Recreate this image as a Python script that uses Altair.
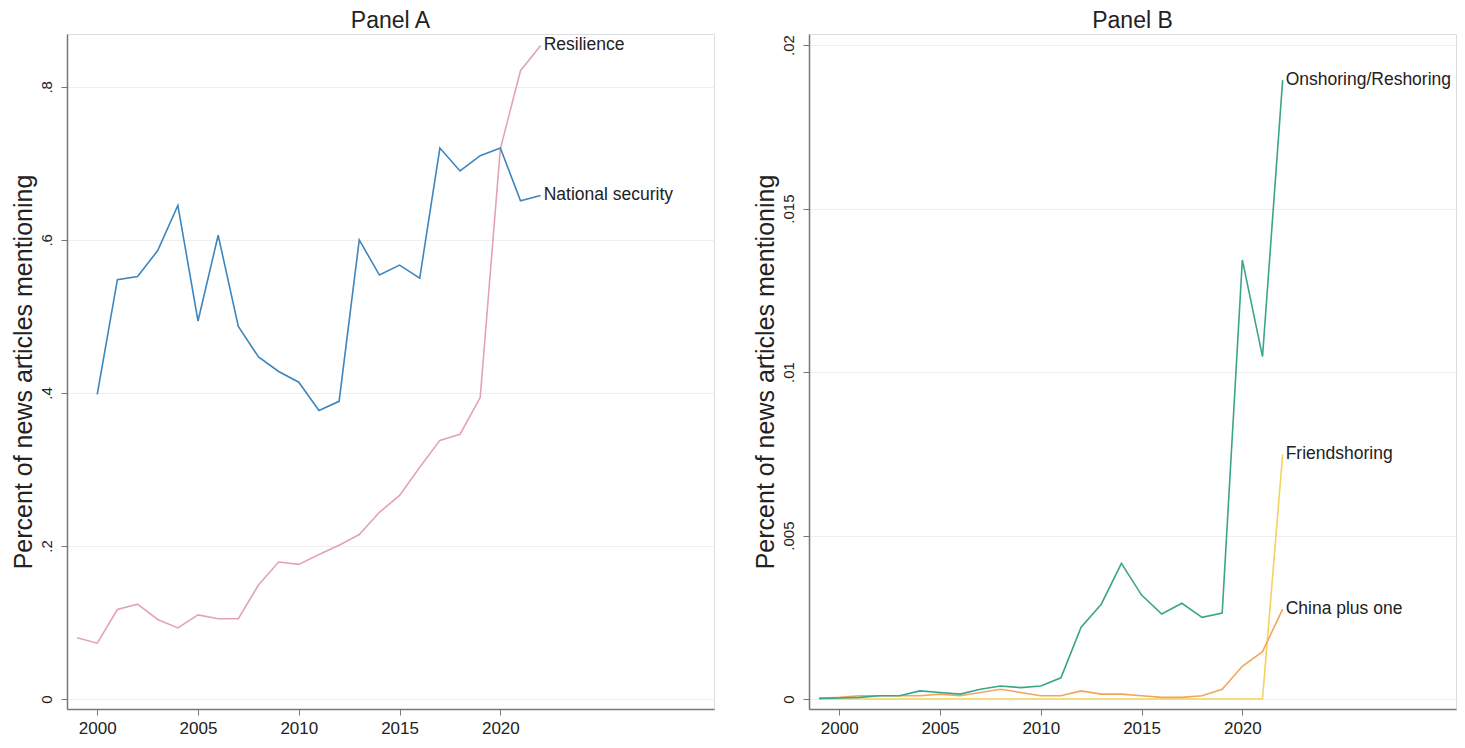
import altair as alt
import pandas as pd

FONT = "Liberation Sans"

# ---------------- Panel A data ----------------
years_res = list(range(1999, 2023))
resilience = [0.080, 0.073, 0.117, 0.124, 0.104, 0.093, 0.110, 0.105, 0.105, 0.149,
              0.179, 0.176, 0.189, 0.201, 0.215, 0.244, 0.266, 0.303, 0.338, 0.346,
              0.394, 0.719, 0.821, 0.854]

years_ns = list(range(2000, 2023))
national_security = [0.398, 0.548, 0.552, 0.586, 0.645, 0.494, 0.606, 0.487, 0.447,
                     0.428, 0.414, 0.377, 0.389, 0.600, 0.554, 0.567, 0.550, 0.720,
                     0.690, 0.710, 0.720, 0.651, 0.658]

# ---------------- Panel B data ----------------
years_b = list(range(1999, 2023))
onshoring = [0.00002, 0.00003, 0.00005, 0.0001, 0.0001, 0.00025, 0.0002, 0.00015,
             0.0003, 0.0004, 0.00035, 0.0004, 0.00065, 0.0022, 0.0029, 0.00415,
             0.00318, 0.0026, 0.00293, 0.0025, 0.00263, 0.01343, 0.01047, 0.01893]
china_plus_one = [0.00002, 0.00005, 0.0001, 0.0001, 0.0001, 0.0001, 0.00015, 0.0001,
                  0.0002, 0.0003, 0.0002, 0.0001, 0.0001, 0.00025, 0.00015, 0.00015,
                  0.0001, 0.00005, 0.00005, 0.0001, 0.0003, 0.001, 0.00145, 0.00275]
friendshoring = [0.0] * 23 + [0.00748]

series_a = ["Resilience", "National security"]
colors_a = ["#E3A3B5", "#3E86BE"]
series_b = ["Friendshoring", "China plus one", "Onshoring/Reshoring"]
colors_b = ["#F4D35E", "#F2A65A", "#3AA58B"]

x_ticks = [2000, 2005, 2010, 2015, 2020]
ya_ticks = [0, 0.2, 0.4, 0.6, 0.8]
yb_ticks = [0, 0.005, 0.01, 0.015, 0.02]

dfa = pd.concat([
    pd.DataFrame({"year": years_res, "value": resilience, "series": "Resilience"}),
    pd.DataFrame({"year": years_ns, "value": national_security, "series": "National security"}),
])
dfb = pd.concat([
    pd.DataFrame({"year": years_b, "value": friendshoring, "series": "Friendshoring"}),
    pd.DataFrame({"year": years_b, "value": china_plus_one, "series": "China plus one"}),
    pd.DataFrame({"year": years_b, "value": onshoring, "series": "Onshoring/Reshoring"}),
])
last_a = dfa[dfa["year"] == 2022]
last_b = dfb[dfb["year"] == 2022]

label_expr = "replace(format(datum.value, '~g'), '0.', '.')"


def x_enc():
    return alt.X("year:Q",
                 scale=alt.Scale(domain=[1998.5, 2030.6], nice=False, zero=False),
                 axis=alt.Axis(values=x_ticks, format="d", title=None, grid=False,
                               tickSize=6, labelPadding=5, labelFontSize=17,
                               labelFont=FONT, labelColor="#222",
                               domainColor="#777", tickColor="#777",
                               domainWidth=1.5, tickWidth=1))


def y_enc(domain, ticks):
    return alt.Y("value:Q",
                 scale=alt.Scale(domain=domain, nice=False, zero=False),
                 axis=alt.Axis(values=ticks, labelExpr=label_expr,
                               title="Percent of news articles mentioning",
                               titleFontSize=25, titleFont=FONT, titleFontWeight="normal",
                               titleColor="#222", titlePadding=3,
                               labelAngle=-90, labelFontSize=15, labelFont=FONT,
                               labelColor="#222", labelPadding=7, tickSize=6,
                               grid=True, gridColor="#EEEEEE", gridWidth=1,
                               domainColor="#777", tickColor="#777",
                               domainWidth=1.5, tickWidth=1))


def panel(df, last, series, colors, ydomain, yticks, title, order):
    color = alt.Color("series:N", scale=alt.Scale(domain=series, range=colors), legend=None)
    base = alt.Chart(df).mark_line(strokeWidth=1.6).encode(
        x=x_enc(), y=y_enc(ydomain, yticks), color=color,
        order=alt.Order("year:Q"),
    )
    lines = alt.layer(*[
        base.transform_filter(alt.datum.series == s) for s in order
    ])
    labels = alt.Chart(last).mark_text(align="left", baseline="middle", dx=3,
                                       fontSize=17.5, font=FONT, color="#222").encode(
        x="year:Q", y="value:Q", text="series:N")
    return alt.layer(lines, labels).properties(
        width=647, height=675,
        title=alt.TitleParams(title, fontSize=23, fontWeight="normal", font=FONT,
                              anchor="middle", offset=1, color="#222"),
    )


pa = panel(dfa, last_a, series_a, colors_a, [-0.013, 0.869], ya_ticks, "Panel A",
           ["Resilience", "National security"])
pb = panel(dfb, last_b, series_b, colors_b, [-0.000305, 0.02034], yb_ticks, "Panel B",
           ["Friendshoring", "China plus one", "Onshoring/Reshoring"])

chart = alt.hconcat(pa, pb, spacing=37).resolve_scale(color="independent").properties(
    padding={"top": 1, "left": 2, "right": 0, "bottom": 0}
).configure_view(stroke=None).configure(background="white")

chart.save("out.html", embed_options={"renderer": "svg", "actions": False})
